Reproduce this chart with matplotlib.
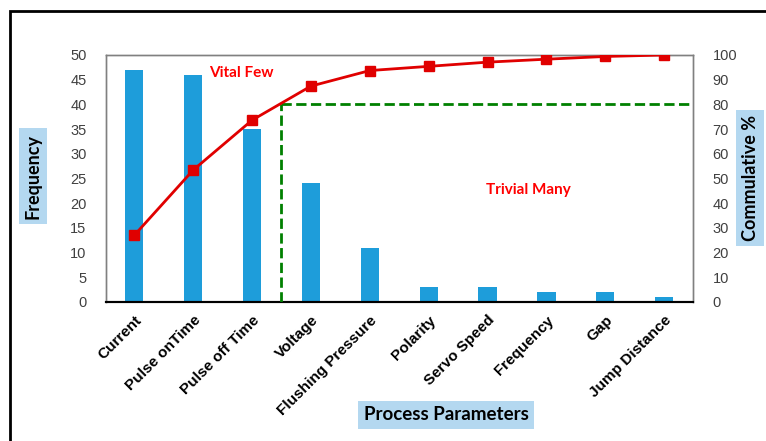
import matplotlib.pyplot as plt
from matplotlib.patches import Rectangle

# Pareto data for the process parameters
parameters = ['Current', 'Pulse onTime', 'Pulse off Time', 'Voltage', 'Flushing Pressure',
              'Polarity', 'Servo Speed', 'Frequency', 'Gap', 'Jump Distance']
frequency = [47, 46, 35, 24, 11, 3, 3, 2, 2, 1]
cumulative_pct = [27.0, 53.4, 73.6, 87.4, 93.7, 95.4, 97.1, 98.3, 99.4, 100.0]
left_ticks = list(range(0, 51, 5))
right_ticks = list(range(0, 101, 10))

bar_color = '#1E9DDA'
box_color = '#B4D8F0'
tick_color = '#404040'

fig = plt.figure(figsize=(7.66, 4.41), dpi=100)

# Outer black frame (runs off the right and bottom edges)
fig.patches.append(Rectangle((10 / 766, -0.05), 1.2, 1 - 11 / 441 + 0.05,
                             transform=fig.transFigure, fill=False,
                             edgecolor='black', linewidth=2))

ax = fig.add_axes([0.1384, 0.3152, 0.7663, 0.5601])
x = list(range(len(parameters)))
ax.bar(x, frequency, width=0.31, color=bar_color, zorder=2)
ax.set_xlim(-0.48, 9.49)
ax.set_ylim(0, 50)
ax.set_yticks(left_ticks)
ax.set_xticks(x)
ax.set_xticklabels(parameters, rotation=45, ha='right', rotation_mode='anchor',
                   fontsize=11, fontweight='bold', family='Liberation Sans')
ax.tick_params(axis='y', length=0, colors=tick_color, labelsize=10.5, pad=14)
ax.tick_params(axis='x', length=0, labelcolor='black', pad=8)
for lab in ax.get_yticklabels():
    lab.set_family('Liberation Sans')

# Secondary axis for cumulative %
ax2 = ax.twinx()
ax2.set_ylim(0, 100)
ax2.set_yticks(right_ticks)
ax2.tick_params(axis='y', length=0, colors=tick_color, labelsize=10.5, pad=14)
for lab in ax2.get_yticklabels():
    lab.set_family('Liberation Sans')
ax2.plot(x, cumulative_pct, color='#E00000', linewidth=2, marker='s',
         markersize=6.5, zorder=4)

# 80% cut-off line
ax2.plot([2.5, 2.5], [0, 80], color='green', linestyle='--', linewidth=2, zorder=3)
ax2.plot([2.5, 9.49], [80, 80], color='green', linestyle='--', linewidth=2, zorder=3)

for a in (ax, ax2):
    for side in ('left', 'right', 'top'):
        a.spines[side].set_color('#808080')
        a.spines[side].set_linewidth(1)
    a.spines['bottom'].set_color('black')
    a.spines['bottom'].set_linewidth(1.5)

ax2.text(1.81, 92.7, 'Vital Few', color='red', fontsize=11,
         fontweight='bold', family='Lato', ha='center', va='center')
ax2.text(6.70, 45.3, 'Trivial Many', color='red', fontsize=11,
         fontweight='bold', family='Lato', ha='center', va='center')

box = dict(boxstyle='square,pad=0.3', facecolor=box_color, edgecolor='none')
fig.text(33 / 766, 1 - 176 / 441, 'Frequency', rotation=90, fontsize=13,
         fontweight='bold', family='Lato', ha='center', va='center', bbox=box)
fig.text(750 / 766, 1 - 178 / 441, 'Commulative %', rotation=90, fontsize=13,
         fontweight='bold', family='Lato', ha='center', va='center', bbox=box)
fig.text(446 / 766, 1 - 415 / 441, 'Process Parameters', fontsize=13.5,
         fontweight='bold', family='Lato', ha='center', va='center', bbox=box)

fig.savefig('out.png', dpi=100)
